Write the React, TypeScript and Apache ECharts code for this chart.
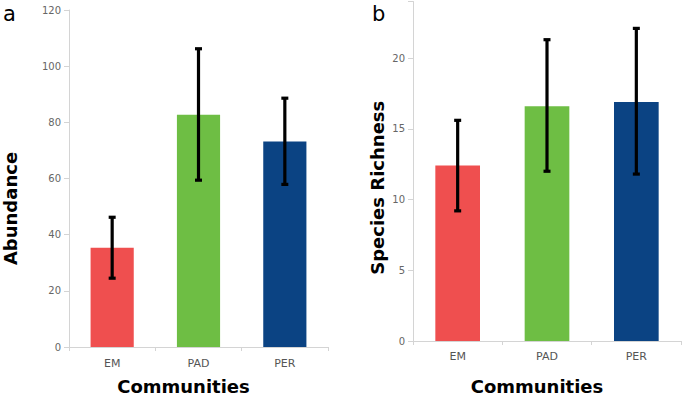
import React, { useEffect, useRef } from "react";
import * as echarts from "echarts";

const categories = ["EM", "PAD", "PER"];
const barColors = ["#EF4F4F", "#6EBE44", "#0B4383"];

const abundance = [35.3, 82.7, 73.2];
const abundanceLow = [24.5, 59.4, 57.9];
const abundanceHigh = [46.2, 106.2, 88.6];

const richness = [12.4, 16.6, 16.9];
const richnessLow = [9.2, 12.0, 11.8];
const richnessHigh = [15.6, 21.3, 22.1];

const labelFont = "DejaVu Sans";

function errorSeries(low: number[], high: number[], idx: number) {
  return {
    type: "custom",
    xAxisIndex: idx,
    yAxisIndex: idx,
    z: 5,
    encode: { x: 0, y: [1, 2] },
    data: low.map((l, i) => [i, l, high[i]]),
    renderItem: (params: any, api: any) => {
      const x = api.value(0);
      const lo = api.coord([x, api.value(1)]);
      const hi = api.coord([x, api.value(2)]);
      const cap = 3.5;
      const style = { stroke: "#000", lineWidth: 3.2 };
      return {
        type: "group",
        children: [
          { type: "line", shape: { x1: lo[0], y1: lo[1], x2: hi[0], y2: hi[1] }, style },
          { type: "line", shape: { x1: hi[0] - cap, y1: hi[1], x2: hi[0] + cap, y2: hi[1] }, style },
          { type: "line", shape: { x1: lo[0] - cap, y1: lo[1], x2: lo[0] + cap, y2: lo[1] }, style },
        ],
      };
    },
  };
}

function barSeries(values: number[], idx: number) {
  return {
    type: "bar",
    xAxisIndex: idx,
    yAxisIndex: idx,
    barWidth: "50%",
    data: values.map((v, i) => ({ value: v, itemStyle: { color: barColors[i] } })),
  };
}

const axisLineStyle = { lineStyle: { color: "#d4d4d4", width: 1 } };

function xAxis(idx: number, gap: number, shift: number, margin: number) {
  return {
    type: "category",
    gridIndex: idx,
    data: categories,
    axisLine: axisLineStyle,
    axisTick: { show: true, length: 4, lineStyle: { color: "#d4d4d4" } },
    axisLabel: { color: "#555", fontSize: 11, fontFamily: labelFont, margin },
    name: "Communities",
    nameLocation: "middle",
    nameGap: gap,
    nameTextStyle: {
      fontFamily: labelFont,
      fontWeight: "bold",
      fontSize: 18,
      color: "#000",
      padding: [0, shift, 0, 0],
    },
  };
}

function yAxis(idx: number, name: string, max: number, interval: number, gap: number, shift: number) {
  return {
    type: "value",
    gridIndex: idx,
    min: 0,
    max,
    interval,
    splitLine: { show: false },
    axisLine: { show: true, ...axisLineStyle },
    axisTick: { show: true, length: 5, lineStyle: { color: "#d4d4d4" } },
    axisLabel: {
      color: "#666",
      fontSize: 10,
      fontFamily: labelFont,
      margin: 8,
      formatter: (v: number) => (v % interval === 0 ? String(v) : ""),
    },
    name,
    nameLocation: "middle",
    nameRotate: 90,
    nameGap: gap,
    nameTextStyle: {
      fontFamily: labelFont,
      fontWeight: "bold",
      fontSize: 18,
      color: "#000",
      padding: [0, shift, 0, 0],
    },
  };
}

export default function App() {
  const ref = useRef<HTMLDivElement>(null);
  useEffect(() => {
    if (!ref.current) return;
    const chart = echarts.init(ref.current, null, { renderer: "svg" });
    chart.setOption({
      animation: false,
      backgroundColor: "#fff",
      grid: [
        { left: 68, top: 10, width: 260, height: 340 },
        { left: 413, top: 1.5, width: 268, height: 342 },
      ],
      xAxis: [xAxis(0, 30, 30, 11), xAxis(1, 36, 20, 10)],
      yAxis: [
        yAxis(0, "Abundance", 120, 20, 50, 60),
        yAxis(1, "Species Richness", 24, 5, 27, 33),
      ],
      graphic: [
        {
          type: "text",
          left: 3,
          top: 3,
          style: { text: "a", font: `21px ${labelFont}`, fill: "#000" },
        },
        {
          type: "text",
          left: 372,
          top: 3,
          style: { text: "b", font: `21px ${labelFont}`, fill: "#000" },
        },
      ],
      series: [
        barSeries(abundance, 0),
        errorSeries(abundanceLow, abundanceHigh, 0),
        barSeries(richness, 1),
        errorSeries(richnessLow, richnessHigh, 1),
      ],
    });
    return () => chart.dispose();
  }, []);
  return (
    <div
      ref={ref}
      style={{ position: "fixed", left: 0, top: 0, width: 685, height: 400 }}
    />
  );
}
